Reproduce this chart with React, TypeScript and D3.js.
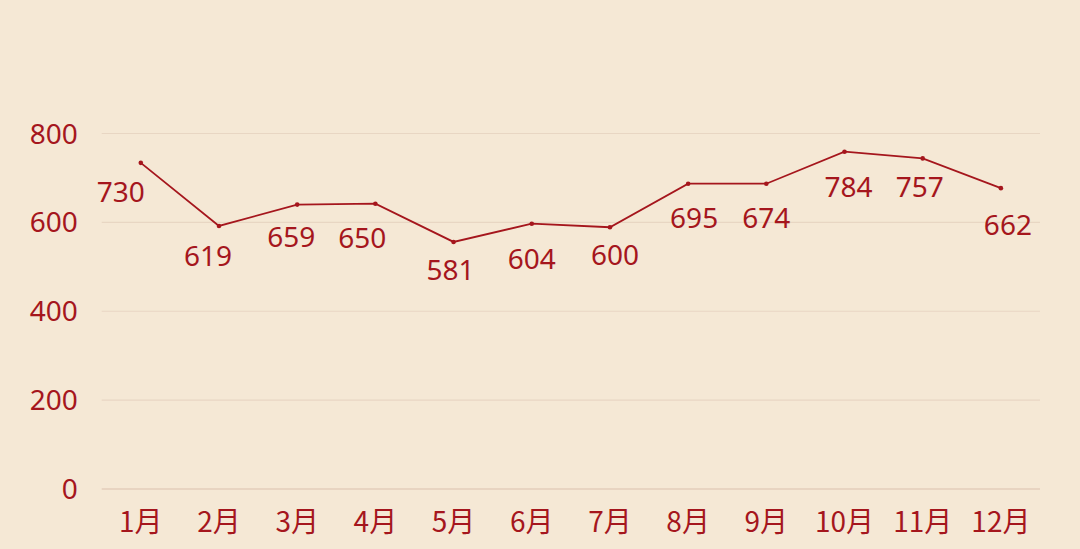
import { useEffect, useRef } from 'react';
import * as d3 from 'd3';

const months = ['1月', '2月', '3月', '4月', '5月', '6月', '7月', '8月', '9月', '10月', '11月', '12月'];
// where each point sits on the y scale
const pointValues = [734, 592, 640, 642, 556, 597, 589, 687, 687, 759, 744, 677];
// the number written next to each point
const labelValues = [730, 619, 659, 650, 581, 604, 600, 695, 674, 784, 757, 662];
const yTicks = [0, 200, 400, 600, 800];

// label placement nudges (px), as laid out in the original
const labelNudgeX = [-20, -11, -6, -13, -3, 0, 5, 6, 0, 4, -3, 7];
const labelNudgeY = [29, 30, 32, 34, 28, 35, 28, 34, 34, 35, 29, 37];

const W = 1080;
const H = 549;
const RED = '#a5161d';

export default function App() {
  const svgRef = useRef<SVGSVGElement>(null);

  useEffect(() => {
    if (!svgRef.current) return;
    const svg = d3.select(svgRef.current);
    svg.selectAll('*').remove();

    const margin = { top: 133.5, right: 40, bottom: 60, left: 101.7 };
    const innerWidth = W - margin.left - margin.right;
    const innerHeight = H - margin.top - margin.bottom;

    svg.append('rect').attr('width', W).attr('height', H).attr('fill', '#f5e8d5');

    const g = svg.append('g').attr('transform', `translate(${margin.left},${margin.top})`);

    const x = d3.scaleBand().domain(months).range([0, innerWidth]).padding(0);
    const y = d3.scaleLinear().domain([0, 800]).range([innerHeight, 0]);
    const cx = (m: string) => (x(m) || 0) + x.bandwidth() / 2;

    // gridlines
    g.selectAll('.grid')
      .data(yTicks)
      .enter()
      .append('line')
      .attr('x1', 0)
      .attr('x2', innerWidth)
      .attr('y1', (d) => y(d))
      .attr('y2', (d) => y(d))
      .attr('stroke', (d) => (d === 0 ? '#dcc0ad' : '#e8d6c3'))
      .attr('stroke-width', 1.2);

    // y tick labels
    g.selectAll('.ytick')
      .data(yTicks)
      .enter()
      .append('text')
      .attr('x', -24)
      .attr('y', (d) => y(d))
      .attr('dy', '0.36em')
      .attr('text-anchor', 'end')
      .style('font-family', '"Noto Sans", sans-serif')
      .style('font-size', '28px')
      .attr('fill', RED)
      .text((d) => d);

    // x tick labels
    g.selectAll('.xtick')
      .data(months)
      .enter()
      .append('text')
      .attr('x', (d) => cx(d))
      .attr('y', innerHeight + 33)
      .attr('dy', '0.36em')
      .attr('text-anchor', 'middle')
      .style('font-family', '"Noto Sans CJK SC", sans-serif')
      .style('font-size', '28px')
      .attr('fill', RED)
      .text((d) => d);

    const line = d3
      .line<number>()
      .x((_, i) => cx(months[i]))
      .y((d) => y(d));

    g.append('path')
      .datum(pointValues)
      .attr('d', line)
      .attr('fill', 'none')
      .attr('stroke', RED)
      .attr('stroke-width', 1.8);

    g.selectAll('.dot')
      .data(pointValues)
      .enter()
      .append('circle')
      .attr('cx', (_, i) => cx(months[i]))
      .attr('cy', (d) => y(d))
      .attr('r', 2.3)
      .attr('fill', RED);

    g.selectAll('.lbl')
      .data(labelValues)
      .enter()
      .append('text')
      .attr('x', (_, i) => cx(months[i]) + labelNudgeX[i])
      .attr('y', (_, i) => y(pointValues[i]) + labelNudgeY[i])
      .attr('dy', '0.36em')
      .attr('text-anchor', 'middle')
      .style('font-family', '"Noto Sans", sans-serif')
      .style('font-size', '28px')
      .attr('fill', RED)
      .text((d) => d);
  }, []);

  return (
    <div style={{ position: 'fixed', left: 0, top: 0 }}>
      <svg ref={svgRef} width={W} height={H} style={{ display: 'block' }} />
    </div>
  );
}
